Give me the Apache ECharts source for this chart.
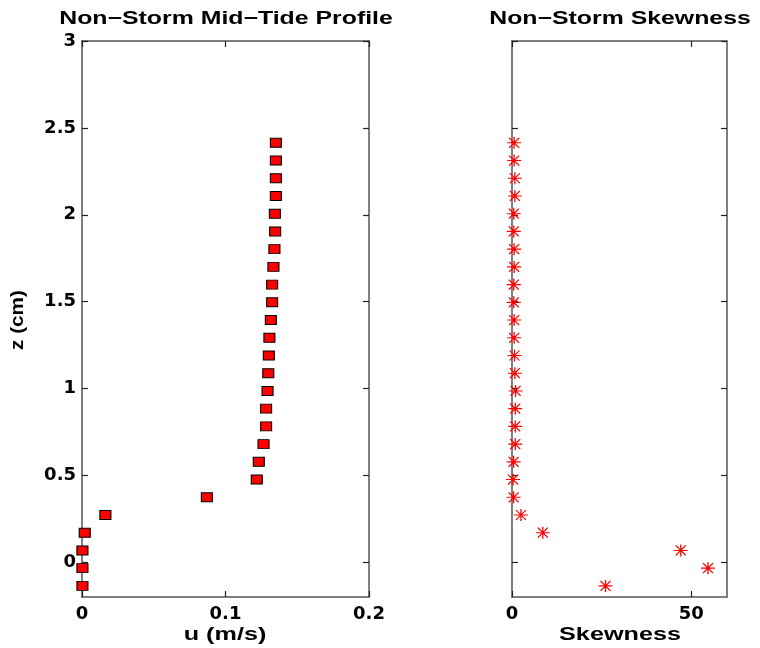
<!DOCTYPE html>
<html>
<head>
<meta charset="utf-8">
<script src="https://cdn.jsdelivr.net/npm/echarts@6/dist/echarts.min.js"></script>
<style>html,body{margin:0;padding:0;background:#fff}#c{width:760px;height:648px}</style>
</head>
<body>
<div id="c"></div>
<script>
// Heights (z, cm) shared by both profiles
var zLevels = [-0.136, -0.034, 0.068, 0.170, 0.272, 0.374, 0.476, 0.578, 0.680, 0.782, 0.884, 0.986, 1.088, 1.190, 1.292, 1.394, 1.496, 1.598, 1.700, 1.802, 1.904, 2.006, 2.108, 2.210, 2.312, 2.414];
// Mean velocity u (m/s)
var uValues = [0.0003, 0.0003, 0.0003, 0.0019, 0.0163, 0.0870, 0.1218, 0.1232, 0.1265, 0.1283, 0.1283, 0.1293, 0.1298, 0.1302, 0.1306, 0.1316, 0.1325, 0.1325, 0.1334, 0.1341, 0.1346, 0.1344, 0.1351, 0.1351, 0.1351, 0.1351];
// Skewness
var skewValues = [26.1, 54.7, 47.1, 8.6, 2.5, 0.45, 0.3, 0.45, 0.9, 0.9, 0.9, 1.0, 0.8, 0.7, 0.6, 0.6, 0.5, 0.5, 0.6, 0.6, 0.5, 0.5, 0.8, 0.8, 0.6, 0.6];
// Tick values
var zTicks = [0, 0.5, 1, 1.5, 2, 2.5, 3];
var uTicks = [0, 0.1, 0.2];
var skewTicks = [0, 50];

var titleLeft = 'Non\u2212Storm Mid\u2212Tide Profile';
var titleRight = 'Non\u2212Storm Skewness';

var chart = echarts.init(document.getElementById('c'), null, {renderer: 'canvas'});
var lineCol = '#555';
var tickFont = {fontFamily: 'DejaVu Sans', fontWeight: 'bold', fontSize: 18, color: '#000'};

function xAx(gi, min, max, ticks, pos, labels) {
  return {
    type: 'value', gridIndex: gi, position: pos, min: min, max: max,
    axisLine: {show: true, onZero: false, lineStyle: {color: lineCol, width: 1.5}},
    axisTick: {show: true, inside: true, length: 6, customValues: ticks, lineStyle: {color: '#222', width: 1.2}},
    axisLabel: Object.assign({show: labels, customValues: ticks, margin: 8}, tickFont),
    splitLine: {show: false}
  };
}
function yAx(gi, pos, labels) {
  return {
    type: 'value', gridIndex: gi, position: pos, min: -0.2, max: 3,
    axisLine: {show: true, onZero: false, lineStyle: {color: lineCol, width: 1.5}},
    axisTick: {show: true, inside: true, length: 6, customValues: zTicks, lineStyle: {color: '#222', width: 1.2}},
    axisLabel: Object.assign({show: labels, customValues: zTicks, margin: 6}, tickFont),
    splitLine: {show: false}
  };
}

var starPath = 'path://M0,6L14,6M7,0L7,12M2,1L12,11M2,11L12,1';

var option = {
  backgroundColor: '#fff',
  animation: false,
  grid: [
    {left: 82, top: 41, width: 287, height: 556},
    {left: 512, top: 41, width: 215, height: 556}
  ],
  xAxis: [
    xAx(0, 0, 0.2, uTicks, 'bottom', true),
    xAx(0, 0, 0.2, uTicks, 'top', false),
    xAx(1, 0, 60, skewTicks, 'bottom', true),
    xAx(1, 0, 60, skewTicks, 'top', false)
  ],
  yAxis: [
    yAx(0, 'left', true),
    yAx(0, 'right', false),
    yAx(1, 'left', false),
    yAx(1, 'right', false)
  ],
  graphic: [
    {type: 'text', x: 226, y: 19, scaleX: 1.38, style: {text: titleLeft, font: 'bold 18px "Liberation Sans"', textAlign: 'center', textVerticalAlign: 'middle', fill: '#000'}},
    {type: 'text', x: 620, y: 19, scaleX: 1.38, style: {text: titleRight, font: 'bold 18px "Liberation Sans"', textAlign: 'center', textVerticalAlign: 'middle', fill: '#000'}},
    {type: 'text', x: 225, y: 635, scaleX: 1.4, style: {text: 'u (m/s)', font: 'bold 18px "Liberation Sans"', textAlign: 'center', textVerticalAlign: 'middle', fill: '#000'}},
    {type: 'text', x: 620, y: 635, scaleX: 1.4, style: {text: 'Skewness', font: 'bold 18px "Liberation Sans"', textAlign: 'center', textVerticalAlign: 'middle', fill: '#000'}},
    {type: 'text', x: 18, y: 320, rotation: Math.PI / 2, scaleX: 1.15, style: {text: 'z (cm)', font: 'bold 18px "Liberation Sans"', textAlign: 'center', textVerticalAlign: 'middle', fill: '#000'}}
  ],
  series: [
    {
      type: 'scatter', xAxisIndex: 0, yAxisIndex: 0,
      symbol: 'rect', symbolSize: [11, 9],
      itemStyle: {color: '#ff0000', borderColor: '#000', borderWidth: 1, opacity: 1},
      data: zLevels.map(function (z, i) { return [uValues[i], z]; })
    },
    {
      type: 'scatter', xAxisIndex: 2, yAxisIndex: 2,
      symbol: starPath, symbolSize: [14, 12], symbolKeepAspect: false,
      itemStyle: {color: 'rgba(0,0,0,0)', borderColor: '#ff0000', borderWidth: 1.2, opacity: 1},
      data: zLevels.map(function (z, i) { return [skewValues[i], z]; })
    }
  ]
};
chart.setOption(option);
</script>
</body>
</html>
